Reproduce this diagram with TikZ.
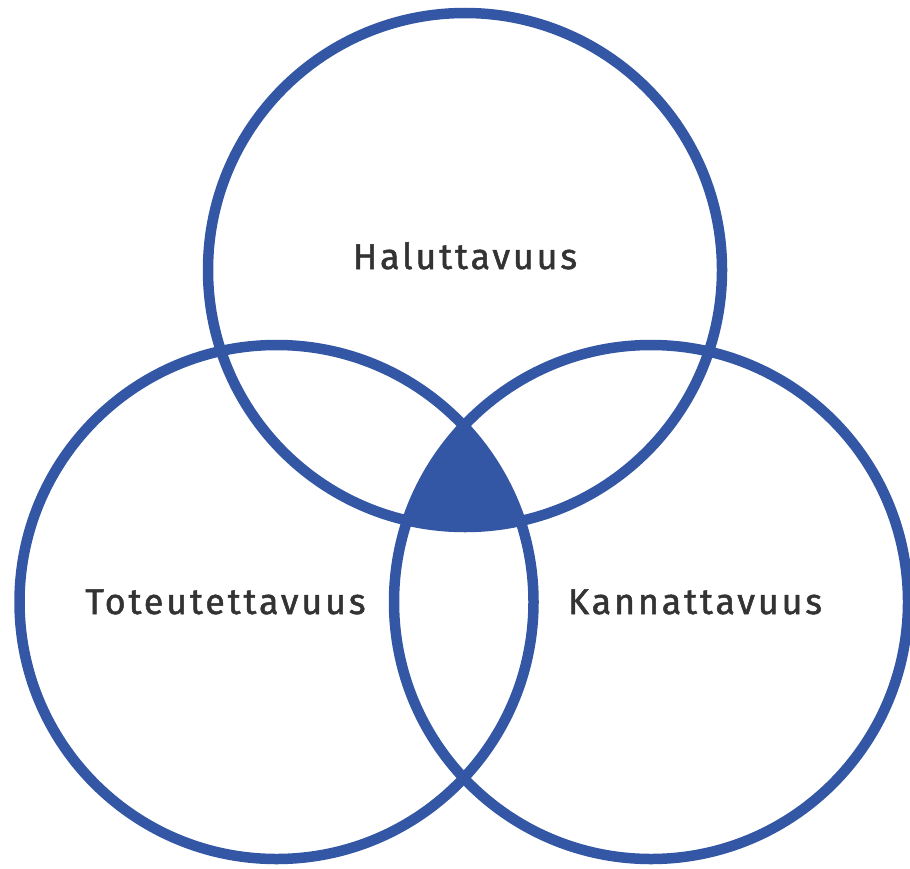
\documentclass[tikz,border=0pt]{standalone}
\usepackage{fontspec}
\setmainfont{Fira Sans}[LetterSpace=8,FakeBold=1.4]
\definecolor{vblue}{RGB}{52,87,165}
\definecolor{vtext}{RGB}{51,51,51}
\begin{document}
\begin{tikzpicture}[x=0.05cm,y=-0.05cm,
  ring/.style={circle,draw=vblue,line width=10.5*0.05cm,minimum size=514*0.05cm,inner sep=0pt},
  lbl/.style={anchor=base,text=vtext,font=\fontsize{51}{60}\selectfont,inner sep=0pt}]
\useasboundingbox (0,0) rectangle (910,868);
\coordinate (ct) at (465,270);
\coordinate (cl) at (276.5,602);
\coordinate (cr) at (651,602);
\begin{scope}
  \clip (ct) circle[radius=257];
  \clip (cl) circle[radius=257];
  \fill[vblue] (cr) circle[radius=257];
\end{scope}
\node[ring] (top) at (ct) {};
\node[ring] (left) at (cl) {};
\node[ring] (right) at (cr) {};
\node[lbl] (t1) at (465,269) {Haluttavuus};
\node[lbl] (t2) at (225.5,614) {Toteutettavuus};
\node[lbl] (t3) at (695,614) {Kannattavuus};
\end{tikzpicture}
\end{document}
